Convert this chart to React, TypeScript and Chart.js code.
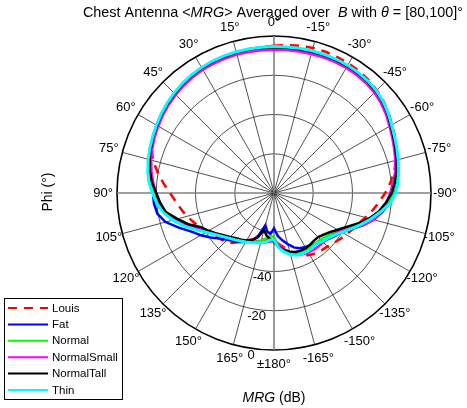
import React, { useEffect, useRef } from 'react';
import { Chart, registerables } from 'chart.js';

Chart.register(...registerables);

// Angles (degrees), clockwise from top: 0, -5, ..., -175, 180, 175, ..., 5
const PHI: number[] = [
  0, -5, -10, -15, -20, -25, -30, -35, -40, -45, -50, -55, -60, -65, -70, -75, -80, -85,
  -90, -95, -100, -105, -110, -115, -120, -125, -130, -135, -140, -145, -150, -155, -160, -165, -170, -175,
  180, 175, 170, 165, 160, 155, 150, 145, 140, 135, 130, 125, 120, 115, 110, 105, 100, 95,
  90, 85, 80, 75, 70, 65, 60, 55, 50, 45, 40, 35, 30, 25, 20, 15, 10, 5,
];

const RADIAL_TICKS: number[] = [0, -20, -40];
const R_MIN = -80;
const R_MAX = 0;

const SERIES_NAMES: string[] = ['Louis', 'Fat', 'Normal', 'NormalSmall', 'NormalTall', 'Thin'];
const SERIES_COLORS: string[] = ['#ff0000', '#0000ff', '#00ff00', '#ff00ff', '#000000', '#00ffff'];

const LOUIS: number[] = [
  -5.0, -4.3, -3.8, -3.5, -3.4, -3.6, -3.8, -4.2, -4.9, -5.9, -7.2, -8.8, -10.5, -12.0, -13.8, -15.6, -17.8, -20.5,
  -23.3, -26.3, -29.0, -31.8, -34.3, -36.0, -37.5, -39.0, -40.3, -41.5, -42.0, -42.6, -43.5, -45.0, -47.0, -49.5, -52.0, -54.0,
  -55.5, -56.0, -56.0, -55.5, -55.0, -54.0, -52.0, -49.5, -46.8, -44.8, -43.8, -42.3, -40.3, -38.3, -36.5, -34.0, -32.0, -29.8,
  -27.0, -23.5, -19.8, -16.2, -13.5, -12.0, -11.0, -10.0, -9.0, -8.2, -7.4, -6.8, -6.3, -6.0, -5.8, -5.7, -5.6, -5.5,
];

const FAT: number[] = [
  -5.6, -5.5, -5.4, -5.3, -5.2, -5.1, -5.1, -5.3, -5.7, -6.4, -7.5, -9.0, -10.9, -12.4, -13.6, -14.8, -15.9, -17.1,
  -18.5, -21.0, -24.0, -27.5, -31.8, -36.5, -40.0, -42.0, -43.6, -45.0, -46.4, -47.5, -48.2, -49.0, -50.5, -53.0, -55.5, -58.0,
  -62.0, -59.0, -60.0, -63.0, -57.0, -53.0, -51.2, -49.5, -48.0, -46.3, -44.0, -40.5, -37.0, -33.5, -28.4, -22.8, -19.6, -18.6,
  -18.3, -17.0, -15.6, -14.2, -13.0, -11.9, -10.9, -9.9, -9.0, -8.2, -7.4, -6.8, -6.3, -6.0, -5.8, -5.7, -5.6, -5.6,
];

const NORMAL: number[] = [
  -5.9, -5.8, -5.7, -5.6, -5.5, -5.4, -5.4, -5.6, -6.0, -6.7, -7.9, -9.5, -11.3, -12.8, -14.0, -15.2, -16.4, -17.8,
  -19.5, -22.0, -25.0, -28.8, -33.5, -38.0, -41.5, -44.0, -45.5, -46.5, -46.8, -46.7, -46.5, -46.6, -47.2, -48.5, -50.5, -53.0,
  -57.5, -58.0, -56.5, -55.0, -54.0, -52.8, -51.6, -50.4, -49.0, -47.5, -45.8, -43.5, -40.5, -36.5, -31.5, -27.0, -23.2, -20.5,
  -18.8, -17.2, -15.7, -14.3, -13.1, -12.0, -11.0, -10.0, -9.1, -8.3, -7.6, -7.0, -6.6, -6.3, -6.1, -6.0, -5.9, -5.9,
];

const NORMAL_SMALL: number[] = [
  -7.0, -6.9, -6.8, -6.7, -6.5, -6.4, -6.4, -6.6, -7.0, -7.7, -8.8, -10.3, -12.0, -13.5, -14.8, -16.0, -17.3, -19.0,
  -20.8, -22.5, -24.5, -27.5, -32.0, -37.0, -41.2, -43.0, -44.0, -44.5, -44.6, -44.7, -45.0, -45.6, -46.5, -48.5, -51.0, -53.5,
  -56.0, -55.0, -54.5, -54.0, -53.5, -52.5, -51.5, -50.5, -49.2, -47.8, -46.2, -44.0, -40.8, -37.0, -32.0, -27.5, -24.0, -21.5,
  -19.8, -18.2, -16.6, -15.2, -14.0, -12.9, -11.9, -10.9, -10.0, -9.2, -8.5, -7.9, -7.5, -7.3, -7.1, -7.0, -7.0, -7.0,
];

const NORMAL_TALL: number[] = [
  -5.8, -5.7, -5.6, -5.5, -5.4, -5.3, -5.3, -5.5, -5.9, -6.6, -7.8, -9.4, -11.3, -12.8, -14.1, -15.3, -16.6, -18.2,
  -20.0, -22.8, -25.8, -29.8, -34.5, -39.2, -42.5, -45.3, -47.0, -48.2, -48.3, -47.9, -47.5, -47.6, -48.0, -49.0, -50.5, -52.5,
  -55.0, -56.5, -58.0, -60.5, -56.0, -53.5, -52.0, -51.0, -50.0, -48.3, -46.5, -44.0, -41.5, -38.8, -33.5, -29.0, -24.0, -21.8,
  -20.0, -17.5, -15.8, -14.4, -13.2, -12.1, -11.1, -10.1, -9.2, -8.4, -7.6, -7.0, -6.5, -6.2, -6.0, -5.9, -5.8, -5.8,
];

const THIN: number[] = [
  -5.4, -5.3, -5.1, -5.0, -4.9, -4.8, -4.9, -5.1, -5.5, -6.2, -7.4, -9.0, -10.8, -12.2, -13.4, -14.5, -15.5, -16.6,
  -18.0, -20.5, -24.8, -28.9, -33.0, -36.8, -40.0, -42.5, -44.2, -45.2, -46.3, -45.8, -45.7, -45.9, -46.3, -47.5, -49.5, -52.0,
  -56.0, -56.0, -54.5, -53.8, -53.0, -52.2, -51.2, -50.2, -48.9, -47.5, -45.6, -43.2, -40.0, -35.8, -31.0, -26.6, -22.7, -20.0,
  -18.0, -16.0, -14.7, -13.6, -12.7, -11.8, -10.8, -9.8, -8.8, -8.0, -7.2, -6.6, -6.1, -5.8, -5.6, -5.5, -5.5, -5.4,
];

const SERIES_DATA: number[][] = [LOUIS, FAT, NORMAL, NORMAL_SMALL, NORMAL_TALL, THIN];

const TITLE_PARTS: [string, boolean][] = [
  ['Chest Antenna <', false],
  ['MRG', true],
  ['> Averaged over  ', false],
  ['B', true],
  [' with ', false],
  ['\u03B8', true],
  [' = [80,100]\u00B0', false],
];
const X_TITLE_PARTS: [string, boolean][] = [
  ['MRG', true],
  [' (dB)', false],
];
const Y_TITLE = 'Phi (\u00B0)';

const FAMILY = '"Liberation Sans", Arial, Helvetica, sans-serif';
const fontStr = (size: number, italic = false) => `${italic ? 'italic ' : ''}${size}px ${FAMILY}`;

function angleLabel(phi: number): string {
  if (phi % 15 !== 0) return '';
  if (phi === 180) return '\u00B1180\u00B0';
  return `${phi}\u00B0`;
}

function drawParts(ctx: CanvasRenderingContext2D, parts: [string, boolean][], cx: number, y: number, size: number) {
  const widths = parts.map(([t, it]) => {
    ctx.font = fontStr(size, it);
    return ctx.measureText(t).width;
  });
  const total = widths.reduce((a, b) => a + b, 0);
  let x = cx - total / 2;
  ctx.textAlign = 'left';
  ctx.textBaseline = 'alphabetic';
  parts.forEach(([t, it], i) => {
    ctx.font = fontStr(size, it);
    ctx.fillText(t, x, y);
    x += widths[i];
  });
}

const decorPlugin = {
  id: 'decor',
  afterDraw(chart: any) {
    const ctx: CanvasRenderingContext2D = chart.ctx;
    const scale = chart.scales.r;
    ctx.save();
    ctx.fillStyle = '#000';

    // Title
    drawParts(ctx, TITLE_PARTS, 273, 17, 14.4);

    // Angle labels, centred just outside the outer ring
    ctx.font = fontStr(13);
    ctx.textAlign = 'center';
    ctx.textBaseline = 'middle';
    PHI.forEach((phi, i) => {
      const text = angleLabel(phi);
      if (!text) return;
      const p = scale.getPointPosition(i, scale.drawingArea + 14);
      ctx.fillText(text, p.x, p.y);
    });

    // Radial tick labels along phi = 172 deg
    const a = (172 * Math.PI) / 180;
    RADIAL_TICKS.forEach((v) => {
      const d = scale.getDistanceFromCenterForValue(v) + 7;
      const x = scale.xCenter - d * Math.sin(a);
      const y = scale.yCenter - d * Math.cos(a);
      ctx.fillText(String(v), x, y);
    });

    // Axis titles
    drawParts(ctx, X_TITLE_PARTS, scale.xCenter, 402, 14);
    ctx.save();
    ctx.translate(48, 192);
    ctx.rotate(-Math.PI / 2);
    ctx.font = fontStr(14);
    ctx.textAlign = 'center';
    ctx.textBaseline = 'middle';
    ctx.fillText(Y_TITLE, 0, 0);
    ctx.restore();

    // Legend
    const bx = 4.5, by = 298.5, bw = 118, bh = 101;
    ctx.fillStyle = '#fff';
    ctx.fillRect(bx, by, bw, bh);
    ctx.strokeStyle = '#000';
    ctx.lineWidth = 1;
    ctx.setLineDash([]);
    ctx.strokeRect(bx, by, bw, bh);
    chart.data.datasets.forEach((ds: any, k: number) => {
      const y = 308 + k * 16.4;
      ctx.save();
      ctx.strokeStyle = ds.borderColor;
      ctx.lineWidth = 2;
      ctx.setLineDash(ds.borderDash || []);
      ctx.beginPath();
      ctx.moveTo(8, y);
      ctx.lineTo(48, y);
      ctx.stroke();
      ctx.restore();
      ctx.fillStyle = '#000';
      ctx.font = fontStr(11.5);
      ctx.textAlign = 'left';
      ctx.textBaseline = 'middle';
      ctx.fillText(ds.label, 52, y + 0.5);
    });
    ctx.restore();
  },
};

export default function App() {
  const ref = useRef<HTMLCanvasElement>(null);
  useEffect(() => {
    if (!ref.current) return;
    const datasets = SERIES_NAMES.map((name, i) => ({
      label: name,
      data: SERIES_DATA[i],
      borderColor: SERIES_COLORS[i],
      backgroundColor: SERIES_COLORS[i],
      borderWidth: i === 5 ? 3 : 2.5,
      borderDash: i === 0 ? [9, 7] : [],
      fill: false,
      pointRadius: 0,
      tension: 0,
      order: 5 - i,
    }));
    const chart = new Chart(ref.current, {
      type: 'radar',
      data: { labels: PHI.map((p) => String(p)), datasets },
      options: {
        responsive: false,
        animation: false,
        layout: { padding: { left: 117, right: 36, top: 36, bottom: 58 } },
        plugins: {
          legend: { display: false },
          title: { display: false },
          tooltip: { enabled: false },
        },
        scales: {
          r: {
            min: R_MIN,
            max: R_MAX,
            startAngle: 0,
            ticks: { display: false, stepSize: 20 },
            grid: {
              circular: true,
              color: (c: any) => (c.tick && c.tick.value === 0 ? '#000000' : '#262626'),
              lineWidth: (c: any) =>
                c.tick && c.tick.value === R_MIN ? 0 : c.tick && c.tick.value === 0 ? 1.6 : 0.8,
            },
            angleLines: {
              display: true,
              color: (c: any) =>
                c.index % 3 !== 0 ? 'rgba(0,0,0,0)' : c.index % 18 === 0 ? '#808080' : '#262626',
              lineWidth: (c: any) => (c.index % 3 !== 0 ? 0 : c.index % 18 === 0 ? 1.6 : 0.8),
            },
            pointLabels: { display: false },
          },
        },
      },
      plugins: [decorPlugin],
    } as any);
    return () => chart.destroy();
  }, []);
  return (
    <div style={{ position: 'absolute', left: 0, top: 0, width: 467, height: 408, background: '#fff' }}>
      <canvas ref={ref} width={467} height={408} style={{ display: 'block' }} />
    </div>
  );
}
